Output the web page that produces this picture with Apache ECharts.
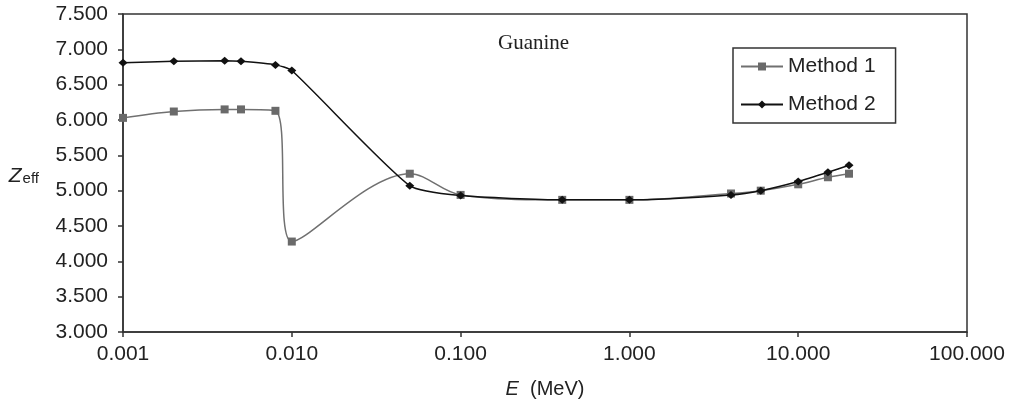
<!DOCTYPE html>
<html>
<head>
<meta charset="utf-8">
<script src="https://cdn.jsdelivr.net/npm/echarts@6/dist/echarts.min.js"></script>
<style>html,body{margin:0;padding:0;background:#fff;}#c{width:1019px;height:404px;}</style>
</head>
<body>
<div id="c"></div>
<script>
var energies = [0.001, 0.002, 0.004, 0.005, 0.008, 0.01, 0.05, 0.1, 0.4, 1, 4, 6, 10, 15, 20];
var method1 = [6.03, 6.12, 6.15, 6.15, 6.13, 4.28, 5.24, 4.94, 4.87, 4.87, 4.96, 5.00, 5.09, 5.19, 5.24];
var method2 = [6.81, 6.83, 6.84, 6.83, 6.78, 6.70, 5.07, 4.93, 4.87, 4.87, 4.94, 5.00, 5.13, 5.26, 5.36];
var seriesNames = ['Method 1', 'Method 2'];
var chartTitle = 'Guanine';

function pairs(xs, ys) { return xs.map(function (x, i) { return [x, ys[i]]; }); }

var chart = echarts.init(document.getElementById('c'), null, { renderer: 'canvas' });
var axisFont = 'Liberation Sans, Arial, sans-serif';
chart.setOption({
  animation: false,
  backgroundColor: '#fff',
  title: {
    text: chartTitle,
    left: 498, top: 33, padding: 0,
    textStyle: { fontFamily: 'Liberation Serif, Times New Roman, serif', fontWeight: 'normal', fontSize: 21, color: '#222' }
  },
  grid: {
    left: 123, right: 52, top: 14, bottom: 71,
    show: true, borderColor: '#333', borderWidth: 1.5, backgroundColor: 'transparent'
  },
  legend: {
    left: 733, top: 48,
    orient: 'vertical',
    backgroundColor: '#fff',
    borderColor: '#333', borderWidth: 1.5,
    padding: [8, 20, 8, 7],
    itemGap: 17,
    itemWidth: 42, itemHeight: 10,
    textStyle: { fontFamily: axisFont, fontSize: 21, color: '#222' },
    data: seriesNames
  },
  xAxis: {
    type: 'log', logBase: 10, min: 0.001, max: 100,
    name: '{i|E}  (MeV)',
    nameLocation: 'middle', nameGap: 47,
    nameTextStyle: {
      fontFamily: axisFont, fontSize: 20, color: '#222',
      rich: { i: { fontFamily: axisFont, fontSize: 20, fontStyle: 'italic', color: '#222' } }
    },
    axisLine: { lineStyle: { color: '#333', width: 1.5 } },
    axisTick: { show: true, length: 5, lineStyle: { color: '#333', width: 1.5 } },
    minorTick: { show: false },
    splitLine: { show: false },
    axisLabel: {
      fontFamily: axisFont, fontSize: 21, color: '#222', margin: 12,
      formatter: function (v) { return Number(v).toFixed(3); }
    }
  },
  yAxis: {
    type: 'value', min: 3, max: 7.5, interval: 0.5,
    name: '{z|Z}{s|eff}',
    nameLocation: 'middle', nameRotate: 0, nameGap: 84,
    nameTextStyle: {
      rich: {
        z: { fontFamily: axisFont, fontSize: 21, fontStyle: 'italic', color: '#222', verticalAlign: 'bottom' },
        s: { fontFamily: axisFont, fontSize: 15, color: '#222', padding: [12, 0, 0, 1] }
      }
    },
    axisLine: { show: true, lineStyle: { color: '#333', width: 1.5 } },
    axisTick: { show: true, length: 5, lineStyle: { color: '#333', width: 1.5 } },
    splitLine: { show: false },
    axisLabel: {
      fontFamily: axisFont, fontSize: 21, color: '#222', margin: 15,
      formatter: function (v) { return v.toFixed(3); }
    }
  },
  series: [
    {
      name: seriesNames[0], type: 'line', smooth: 0.35,
      data: pairs(energies, method1),
      symbol: 'rect', symbolSize: 8,
      itemStyle: { color: '#6a6a6a' },
      lineStyle: { color: '#707070', width: 1.5 },
      z: 2
    },
    {
      name: seriesNames[1], type: 'line', smooth: 0.2,
      data: pairs(energies, method2),
      symbol: 'diamond', symbolSize: [9, 8],
      itemStyle: { color: '#111' },
      lineStyle: { color: '#111', width: 1.5 },
      z: 3
    }
  ]
});
</script>
</body>
</html>
